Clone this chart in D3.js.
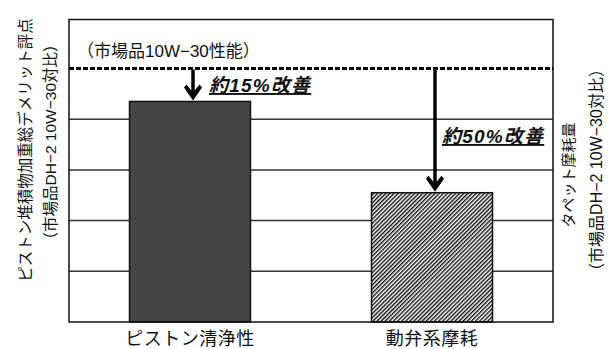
<!DOCTYPE html>
<html>
<head>
<meta charset="utf-8">
<script src="https://cdn.jsdelivr.net/npm/d3@7/dist/d3.min.js"></script>
<style>
  html, body { margin: 0; padding: 0; background: #fff; }
  svg { display: block; }
  text { font-family: "Liberation Sans", Arial, "Noto Sans CJK JP", sans-serif; fill: #111; }
</style>
</head>
<body>
<svg id="chart" width="609" height="349"></svg>
<script>
// Categories and values (100 = 市場品10W-30 baseline)
const categories = ["ピストン清浄性", "動弁系摩耗"];
const values = [87, 51];
const baseline = 100;
const gridTicks = [20, 40, 60, 80];
const improvementLabels = ["約15%改善", "約50%改善"];
const baselineLabel = "（市場品10W−30性能）";
const leftTitle = ["ピストン堆積物加重総デメリット評点", "（市場品DH−2 10W−30対比）"];
const rightTitle = ["タペット摩耗量", "（市場品DH−2 10W−30対比）"];

const svg = d3.select("#chart");
const plot = { left: 69, right: 553, top: 19.5, bottom: 322 };

const x = d3.scaleBand()
  .domain(categories)
  .range([plot.left, plot.right])
  .paddingInner(0.5)
  .paddingOuter(0.25);

const y = d3.scaleLinear()
  .domain([0, 100])
  .range([plot.bottom, 68.5]);

// hatch pattern for the second bar
const defs = svg.append("defs");
const hatch = defs.append("pattern")
  .attr("id", "hatch")
  .attr("patternUnits", "userSpaceOnUse")
  .attr("width", 2.9)
  .attr("height", 2.9)
  .attr("patternTransform", "rotate(45)");
hatch.append("rect").attr("width", 2.9).attr("height", 2.9).attr("fill", "#fff");
hatch.append("line")
  .attr("x1", 0.7).attr("y1", 0).attr("x2", 0.7).attr("y2", 2.9)
  .attr("stroke", "#111").attr("stroke-width", 1.45);

// horizontal grid lines
svg.append("g")
  .selectAll("line")
  .data(gridTicks)
  .join("line")
  .attr("x1", plot.left).attr("x2", plot.right)
  .attr("y1", d => y(d)).attr("y2", d => y(d))
  .attr("stroke", "#333").attr("stroke-width", 1.5);

// bars
const fills = ["#454545", "url(#hatch)"];
svg.append("g")
  .selectAll("rect")
  .data(categories)
  .join("rect")
  .attr("x", d => x(d))
  .attr("y", (d, i) => y(values[i]))
  .attr("width", x.bandwidth())
  .attr("height", (d, i) => y(0) - y(values[i]))
  .attr("fill", (d, i) => fills[i])
  .attr("stroke", "#111")
  .attr("stroke-width", 1.5);

// frame
svg.append("rect")
  .attr("x", plot.left).attr("y", plot.top)
  .attr("width", plot.right - plot.left)
  .attr("height", plot.bottom - plot.top)
  .attr("fill", "none")
  .attr("stroke", "#111")
  .attr("stroke-width", 1.5);

// dashed baseline at 100
svg.append("line")
  .attr("x1", plot.left).attr("x2", plot.right)
  .attr("y1", y(baseline)).attr("y2", y(baseline))
  .attr("stroke", "#000")
  .attr("stroke-width", 3)
  .attr("stroke-dasharray", "5,2");

svg.append("text")
  .attr("x", 77)
  .attr("y", 57)
  .attr("font-size", 17)
  .text(baselineLabel);

// improvement arrows
const arrows = svg.append("g");
categories.forEach((c, i) => {
  const ax = x(c) + x.bandwidth() / 2 + 3;
  const y0 = y(baseline) + 1;
  const y1 = y(values[i]) - 1;
  arrows.append("line")
    .attr("x1", ax).attr("x2", ax)
    .attr("y1", y0).attr("y2", y1 - 6)
    .attr("stroke", "#000").attr("stroke-width", 3.5);
  arrows.append("path")
    .attr("transform", `translate(${ax},${y1})`)
    .attr("d", "M0,0 L-9,-13 L-6.5,-16 L0,-8 L6.5,-16 L9,-13 Z")
    .attr("fill", "#000");
});

// improvement labels
const labelPos = [
  { x: 209, y: 92 },
  { x: 442, y: 143 }
];
improvementLabels.forEach((t, i) => {
  svg.append("text")
    .attr("x", labelPos[i].x)
    .attr("y", labelPos[i].y)
    .attr("font-size", 19)
    .attr("font-weight", "bold")
    .attr("font-style", "italic")
    .attr("letter-spacing", 1.2)
    .attr("text-decoration", "underline")
    .text(t);
});

// category labels
svg.append("g")
  .selectAll("text")
  .data(categories)
  .join("text")
  .attr("x", d => x(d) + x.bandwidth() / 2)
  .attr("y", 345)
  .attr("text-anchor", "middle")
  .attr("font-size", 18)
  .attr("letter-spacing", 0.5)
  .text(d => d);

// left axis title (two lines)
const lt = [{ cx: 25, cy: 150, s: 15.5 }, { cx: 50, cy: 142, s: 15.5 }];
leftTitle.forEach((t, i) => {
  svg.append("text")
    .attr("transform", `translate(${lt[i].cx + 6},${lt[i].cy}) rotate(-90)`)
    .attr("text-anchor", "middle")
    .attr("font-size", lt[i].s)
    .text(t);
});

// right axis title (two lines)
const rt = [{ cx: 568, cy: 175, s: 15 }, { cx: 596, cy: 170, s: 16 }];
rightTitle.forEach((t, i) => {
  svg.append("text")
    .attr("transform", `translate(${rt[i].cx + 6},${rt[i].cy}) rotate(-90)`)
    .attr("text-anchor", "middle")
    .attr("font-size", rt[i].s)
    .text(t);
});
</script>
</body>
</html>
